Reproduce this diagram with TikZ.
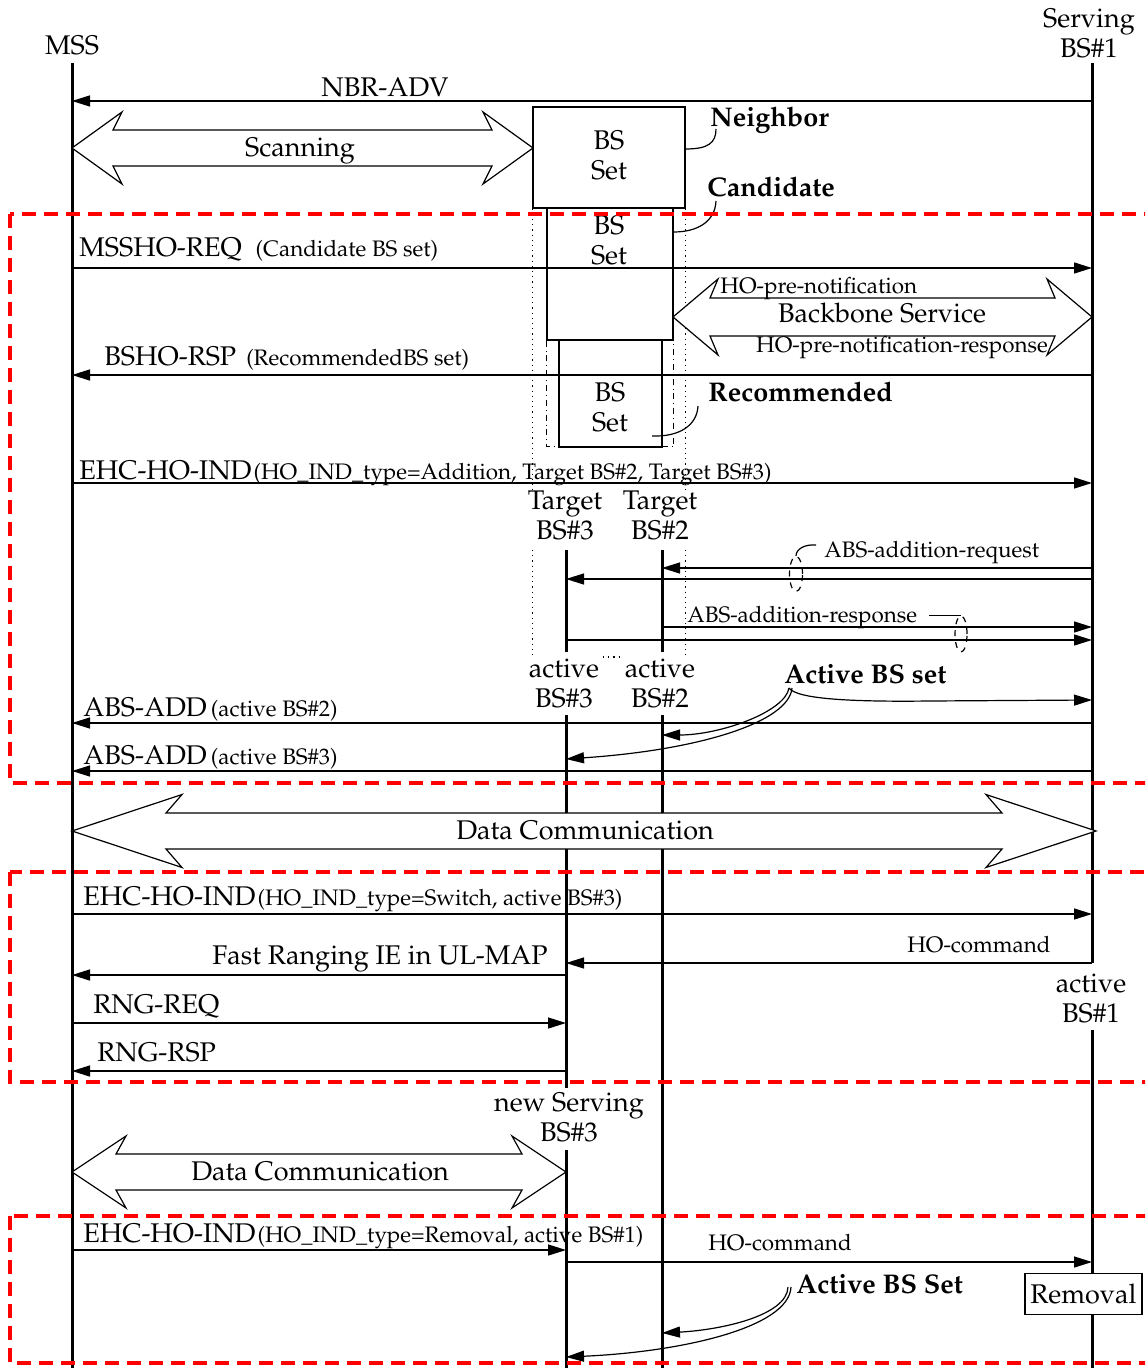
\documentclass[tikz,border=0pt]{standalone}
\usepackage[T1]{fontenc}
\renewcommand{\rmdefault}{ppl}
\usetikzlibrary{arrows.meta,positioning,shapes.geometric}
\definecolor{grpred}{HTML}{FF0000}
\newcommand{\lblfont}{\fontsize{13.5}{15}\selectfont}
\newcommand{\smfont}{\fontsize{11.2}{13}\selectfont}
\newcommand{\bldfont}{\fontsize{13.5}{15}\selectfont\bfseries}
\newcommand{\sendmsg}[3]{\draw[msg] (#1 |- 0,#3) -- (#2 |- 0,#3);}
% hollow double arrow: x-left, x-right, y, shaft half, head half, head length, notch
\newcommand{\hollow}[7]{\draw[fill=white, line width=0.6pt] (#1,#3) -- ({#1+#6},{#3-#5}) -- ({#1+#6-#7},{#3-#4}) -- ({#2-#6+#7},{#3-#4}) -- ({#2-#6},{#3-#5}) -- (#2,#3) -- ({#2-#6},{#3+#5}) -- ({#2-#6+#7},{#3+#4}) -- ({#1+#6-#7},{#3+#4}) -- ({#1+#6},{#3+#5}) -- cycle;}

\begin{document}
\begin{tikzpicture}[x=0.5pt, y=-0.5pt, >={Triangle[length=9pt,width=5.5pt]},
  life/.style={line width=1.5pt},
  msg/.style={->, line width=0.7pt},
  txt/.style={inner sep=0pt, font=\lblfont},
  sml/.style={inner sep=0pt, font=\smfont},
  bld/.style={inner sep=0pt, font=\bldfont},
  setbox/.style={draw, line width=0.7pt, inner sep=0pt},
  ring/.style={draw, dashed, ellipse, inner sep=0pt, line width=0.6pt},
  hook/.style={line width=0.6pt},
  grpbox/.style={draw=grpred, line width=1.7pt, dash pattern=on 7pt off 4pt}]
  \useasboundingbox (0,0) rectangle (1145,1368);
  \clip (0,0) rectangle (1145,1368);

  \coordinate (lmss) at (72,0);
  \coordinate (lbs1) at (1092,0);
  \coordinate (lbs3) at (566,0);
  \coordinate (lbs2) at (662,0);

  \node[txt, anchor=base] (mss) at (72,55) {MSS};
  \node[txt, anchor=base, align=center] (bs1) at (1089,58) {Serving\\BS\#1};
  \node[txt, anchor=base, align=center] (t3) at (565,539) {Target\\BS\#3};
  \node[txt, anchor=base, align=center] (t2) at (660,539) {Target\\BS\#2};
  \node[txt, anchor=base, align=center] (a3) at (564,707) {active\\BS\#3};
  \node[txt, anchor=base, align=center] (a2) at (660,707) {active\\BS\#2};
  \node[txt, anchor=base, align=center] (a1) at (1091,1022) {active\\BS\#1};
  \node[txt, anchor=base, align=center] (n3) at (569,1141) {new Serving\\BS\#3};

  \draw[life] (lmss |- 0,63) -- (lmss |- 0,1368);
  \draw[life] (lbs1 |- 0,63) -- (lbs1 |- 0,963);
  \draw[life] (lbs1 |- 0,1030) -- (lbs1 |- 0,1368);
  \draw[life] (lbs3 |- 0,550) -- (lbs3 |- 0,652);
  \draw[life] (lbs3 |- 0,715) -- (lbs3 |- 0,1088);
  \draw[life] (lbs3 |- 0,1150) -- (lbs3 |- 0,1368);
  \draw[life] (lbs2 |- 0,550) -- (lbs2 |- 0,652);
  \draw[life] (lbs2 |- 0,715) -- (lbs2 |- 0,1368);

  \node[setbox, minimum width=76pt, minimum height=50.5pt] (nbset) at (609,157.5) {};
  \node[txt, anchor=base, align=center] (nbtxt) at (609,180) {BS\\Set};
  \node[setbox, minimum width=63pt, minimum height=66pt] (cbox) at (610,274) {};
  \node[txt, anchor=base, align=center] (ctxt) at (609,265) {BS\\Set};
  \node[setbox, minimum width=51.5pt, minimum height=53.5pt] (rbox) at (610.5,393.5) {};
  \node[txt, anchor=base, align=center] (rtxt) at (610,432) {BS\\Set};
  \draw[dash dot, line width=0.5pt] (cbox.south west) -- (cbox.south west |- 0,447) -- (cbox.south east |- 0,447) -- (cbox.south east);
  \draw[dotted, line width=0.6pt] (nbset.south west) -- (nbset.south west |- 0,490);
  \draw[dotted, line width=0.6pt] (nbset.south west |- 0,550) -- (nbset.south west |- 0,655);
  \draw[dotted, line width=0.6pt] (nbset.south east) -- (nbset.south east |- 0,490);
  \draw[dotted, line width=0.6pt] (nbset.south east |- 0,550) -- (nbset.south east |- 0,655);
  \draw[dotted, line width=0.6pt] (603,657) -- (623,657);

  \node[bld, anchor=base west] (nbrlbl) at (710,127) {Neighbor};
  \node[bld, anchor=base west] (cndlbl) at (707,197) {Candidate};
  \node[bld, anchor=base west] (reclbl) at (708,402) {Recommended};
  \draw[hook] (nbset.east |- 0,149) .. controls (708,149) and (716,143) .. (716,129);
  \draw[hook] (cbox.east |- 0,232) .. controls (697,232) and (715,222) .. (716,201);
  \draw[hook] (652,436) .. controls (680,437) and (697,425) .. (698,406);

  \sendmsg{lbs1}{lmss}{101}
  \node[txt, anchor=base] (nbradv) at (385,97) {NBR-ADV};
  \hollow{72}{533}{148}{18}{36}{50}{9}
  \node[txt, anchor=base] (scan) at (300,157) {Scanning};

  \sendmsg{lmss}{lbs1}{268}
  \node[txt, anchor=base west] (horeq) at (79,257) {MSSHO-REQ\hspace{7pt}{\smfont(Candidate BS set)}};
  \hollow{673}{1092}{317}{19}{38}{45}{8}
  \node[sml, anchor=base west] (prenot) at (720,294) {HO-pre-notification};
  \node[txt, anchor=base] (bbsrv) at (882,323) {Backbone Service};
  \node[sml, anchor=base] (prersp) at (902,353) {HO-pre-notification-response};
  \sendmsg{lbs1}{lmss}{375}
  \node[txt, anchor=base west] (horsp) at (104,366) {BSHO-RSP\hspace{5pt}{\smfont(RecommendedBS set)}};
  \sendmsg{lmss}{lbs1}{483}
  \node[txt, anchor=base west] (indadd) at (79,480) {EHC-HO-IND\hspace{1pt}{\smfont(HO\_IND\_type=Addition, Target BS\#2, Target BS\#3)}};

  \sendmsg{lbs1}{lbs2}{568}
  \sendmsg{lbs1}{lbs3}{579}
  \node[ring, minimum width=6.5pt, minimum height=17.5pt] (reqring) at (796,574) {};
  \node[sml, anchor=base west] (reqlbl) at (824,557) {ABS-addition-request};
  \draw[hook] (reqring.north) .. controls (796,549) and (805,544) .. ([shift={(-8,-7)}]reqlbl.west);
  \sendmsg{lbs2}{lbs1}{627}
  \sendmsg{lbs3}{lbs1}{640}
  \node[ring, minimum width=6pt, minimum height=18pt] (resring) at (961,634) {};
  \node[sml, anchor=base west] (resplbl) at (687,622) {ABS-addition-response};
  \draw[hook] ([xshift=-16pt]resring.north) -- (resring.north);

  \node[bld, anchor=base west] (absset) at (784,683) {Active BS set};
  \coordinate (abs1) at (789,688);
  \draw[->, hook] (abs1) .. controls (797,699) and (850,702) .. (930,701) -- (lbs1 |- 0,700);
  \draw[->, hook] (abs1) .. controls (785,712) and (720,735) .. (lbs2 |- 0,735);
  \draw[->, hook] ([xshift=1.5pt]abs1) .. controls (789,722) and (700,750) .. (lbs3 |- 0,759);
  \sendmsg{lbs1}{lmss}{723}
  \node[txt, anchor=base west] (add2) at (83,716) {ABS-ADD\hspace{2pt}{\smfont(active BS\#2)}};
  \sendmsg{lbs1}{lmss}{771}
  \node[txt, anchor=base west] (add3) at (83,764) {ABS-ADD\hspace{2pt}{\smfont(active BS\#3)}};

  \hollow{72}{1096}{831}{18}{36.5}{110}{16}
  \node[txt, anchor=base] (data1) at (585,839) {Data Communication};

  \sendmsg{lmss}{lbs1}{914}
  \node[txt, anchor=base west] (indsw) at (83,905) {EHC-HO-IND\hspace{1pt}{\smfont(HO\_IND\_type=Switch, active BS\#3)}};
  \sendmsg{lbs1}{lbs3}{963}
  \node[sml, anchor=base east] (hocmd1) at (1051,952) {HO-command};
  \sendmsg{lbs3}{lmss}{975}
  \node[txt, anchor=base east] (fastrng) at (548,964) {Fast Ranging IE in UL-MAP};
  \sendmsg{lmss}{lbs3}{1023}
  \node[txt, anchor=base west] (rngreq) at (93,1013) {RNG-REQ};
  \sendmsg{lbs3}{lmss}{1071}
  \node[txt, anchor=base west] (rngrsp) at (97,1061) {RNG-RSP};

  \hollow{72}{566}{1172}{18}{36}{54}{10}
  \node[txt, anchor=base] (data2) at (320,1180) {Data Communication};

  \sendmsg{lmss}{lbs3}{1250}
  \node[txt, anchor=base west] (indrm) at (83,1242) {EHC-HO-IND\hspace{1pt}{\smfont(HO\_IND\_type=Removal, active BS\#1)}};
  \sendmsg{lbs3}{lbs1}{1262}
  \node[sml, anchor=base] (hocmd2) at (780,1250) {HO-command};
  \node[bld, anchor=base west] (absset2) at (796,1293) {Active BS Set};
  \coordinate (abs2) at (788,1287);
  \draw[->, hook] (abs2) .. controls (787,1316) and (720,1330) .. (lbs2 |- 0,1333);
  \draw[->, hook] ([xshift=1.5pt]abs2) .. controls (789,1328) and (680,1352) .. (lbs3 |- 0,1357);
  \node[setbox, font=\lblfont, fill=white, minimum width=58.5pt, minimum height=20.5pt] (rmv) at (1083.5,1294) {Removal};

  \draw[grpbox] (10,214) rectangle (1170,783);
  \draw[grpbox] (10,872) rectangle (1170,1082);
  \draw[grpbox] (10,1216) rectangle (1170,1363);
\end{tikzpicture}
\end{document}
